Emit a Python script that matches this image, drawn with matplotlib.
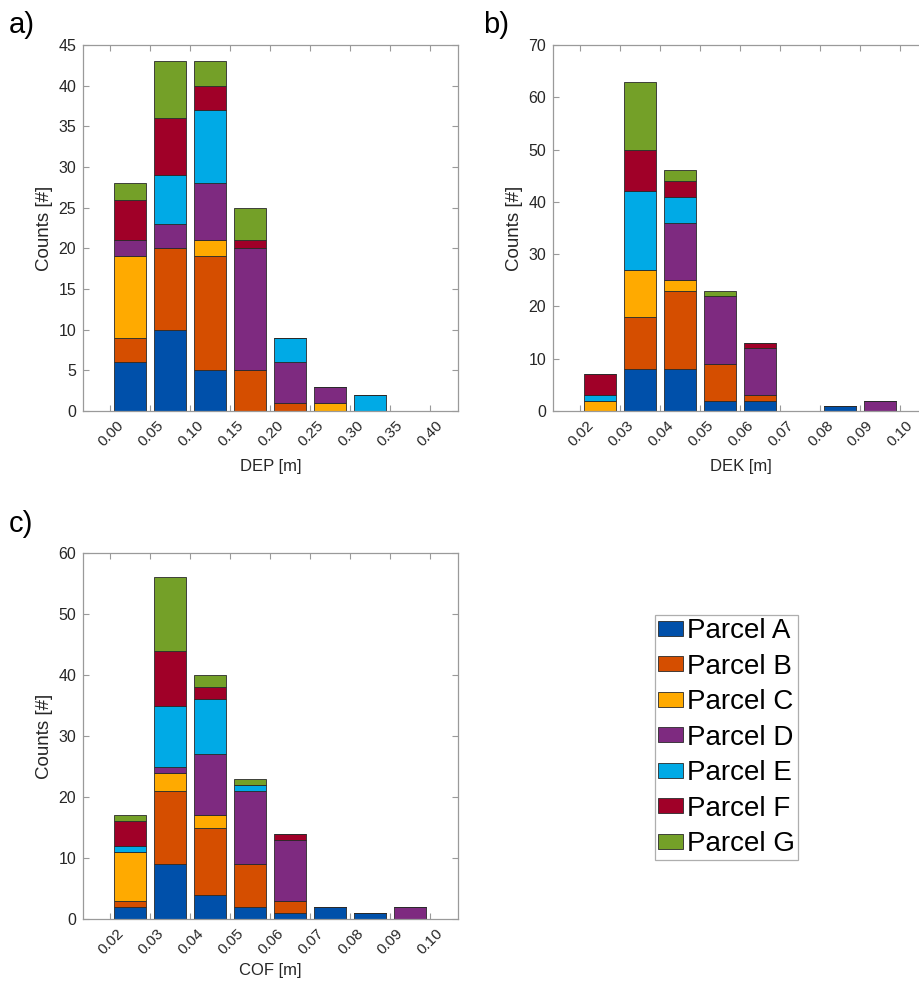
import matplotlib
matplotlib.use("Agg")
import matplotlib.pyplot as plt
import matplotlib.transforms as mtransforms
import numpy as np

plt.rcParams["font.family"] = ["Liberation Sans", "DejaVu Sans"]

parcels = ["Parcel A", "Parcel B", "Parcel C", "Parcel D", "Parcel E", "Parcel F", "Parcel G"]
colors = ["#0050AA", "#D54E00", "#FFAA00", "#7E2A80", "#00AAE6", "#A00028", "#74A028"]

# DEP histogram: bin edges and counts per parcel (rows A..G)
dep_edges = [0.00, 0.05, 0.10, 0.15, 0.20, 0.25, 0.30, 0.35, 0.40]
dep_counts = [
    [6, 10, 5, 0, 0, 0, 0, 0],
    [3, 10, 14, 5, 1, 0, 0, 0],
    [10, 0, 2, 0, 0, 1, 0, 0],
    [2, 3, 7, 15, 5, 2, 0, 0],
    [0, 6, 9, 0, 3, 0, 2, 0],
    [5, 7, 3, 1, 0, 0, 0, 0],
    [2, 7, 3, 4, 0, 0, 0, 0],
]

# DEK histogram
dek_edges = [0.02, 0.03, 0.04, 0.05, 0.06, 0.07, 0.08, 0.09, 0.10]
dek_counts = [
    [0, 8, 8, 2, 2, 0, 1, 0],
    [0, 10, 15, 7, 1, 0, 0, 0],
    [2, 9, 2, 0, 0, 0, 0, 0],
    [0, 0, 11, 13, 9, 0, 0, 2],
    [1, 15, 5, 0, 0, 0, 0, 0],
    [4, 8, 3, 0, 1, 0, 0, 0],
    [0, 13, 2, 1, 0, 0, 0, 0],
]

# COF histogram
cof_edges = [0.02, 0.03, 0.04, 0.05, 0.06, 0.07, 0.08, 0.09, 0.10]
cof_counts = [
    [2, 9, 4, 2, 1, 2, 1, 0],
    [1, 12, 11, 7, 2, 0, 0, 0],
    [8, 3, 2, 0, 0, 0, 0, 0],
    [0, 1, 10, 12, 10, 0, 0, 2],
    [1, 10, 9, 1, 0, 0, 0, 0],
    [4, 9, 2, 0, 1, 0, 0, 0],
    [1, 12, 2, 1, 0, 0, 0, 0],
]

W, H = 920, 981
fig = plt.figure(figsize=(W / 100, H / 100), dpi=100)


def px_axes(left, top, right, bottom):
    return fig.add_axes([left / W, 1 - bottom / H, (right - left) / W, (bottom - top) / H])


axis_gray = "#9A9A9A"
text_dark = "#262626"
AX_H = 366


def stacked_hist(ax, edges, counts, xlabel, yticks, xlim, xfmt, xlabel_gap):
    edges = np.asarray(edges)
    centers = (edges[:-1] + edges[1:]) / 2
    width = 0.8 * (edges[1] - edges[0])
    bottom = np.zeros(len(centers))
    handles = []
    for row, col, name in zip(counts, colors, parcels):
        vals = np.asarray(row, dtype=float)
        h = ax.bar(centers, vals, width=width, bottom=bottom, color=col,
                   edgecolor="#2a2a2a", linewidth=0.6, label=name)
        handles.append(h)
        bottom += vals
    ax.set_xlim(*xlim)
    ax.set_ylim(yticks[0], yticks[-1])
    ax.set_yticks(yticks)
    ax.set_xticks(edges)
    ax.set_xticklabels([xfmt.format(e) for e in edges], rotation=45,
                       ha="right", va="top", rotation_mode="anchor")
    ax.tick_params(direction="in", top=True, right=True, length=4, width=0.8,
                   color=axis_gray, labelsize=11.5, labelcolor=text_dark, pad=5)
    ax.tick_params(axis="x", labelsize=11, pad=5)
    shift = mtransforms.ScaledTranslation(6 / 100, 0, fig.dpi_scale_trans)
    for lab in ax.get_xticklabels():
        lab.set_transform(lab.get_transform() + shift)
    for s in ax.spines.values():
        s.set_color(axis_gray)
        s.set_linewidth(0.9)
    ax.set_xlabel(xlabel, fontsize=12, color=text_dark, va="center")
    ax.xaxis.set_label_coords(0.5, -xlabel_gap / AX_H)
    ax.set_ylabel("Counts [#]", fontsize=13.5, color=text_dark, labelpad=4)
    return handles


ax_a = px_axes(83, 45, 458, 411)
stacked_hist(ax_a, dep_edges, dep_counts, "DEP [m]", list(range(0, 46, 5)),
             (-0.034, 0.435), "{:.2f}", 55)

ax_b = px_axes(553, 45, 928, 411)
stacked_hist(ax_b, dek_edges, dek_counts, "DEK [m]", list(range(0, 71, 10)),
             (0.0132, 0.107), "{:.2f}", 55)

ax_c = px_axes(83, 553, 458, 919)
handles = stacked_hist(ax_c, cof_edges, cof_counts, "COF [m]", list(range(0, 61, 10)),
                       (0.0132, 0.107), "{:.2f}", 51)

fig.text(9 / W, 1 - 25 / H, "a)", fontsize=21, va="center", ha="left")
fig.text(483 / W, 1 - 25 / H, "b)", fontsize=21, va="center", ha="left")
fig.text(9 / W, 1 - 524 / H, "c)", fontsize=21, va="center", ha="left")

leg = fig.legend(handles, parcels, loc="upper left",
                 bbox_to_anchor=(655 / W, 1 - 615 / H), fontsize=20,
                 handlelength=0.9, handleheight=0.45, handletextpad=0.12,
                 labelspacing=0.34, borderpad=0.12, borderaxespad=0.0,
                 fancybox=False, frameon=True)
leg.get_frame().set_edgecolor(axis_gray)
leg.get_frame().set_linewidth(0.9)

fig.savefig("out.png", dpi=100)
